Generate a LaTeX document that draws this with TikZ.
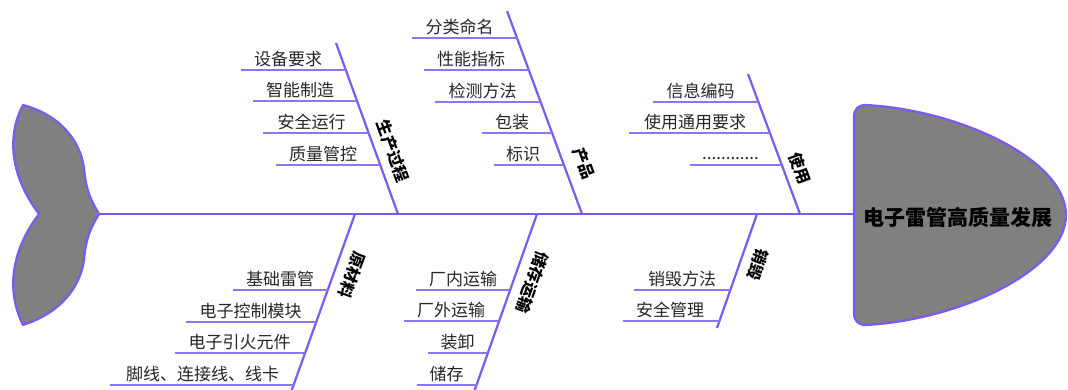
\documentclass[tikz,border=0pt]{standalone}
\usepackage{fontspec}
\setmainfont{Noto Sans CJK SC}
\usetikzlibrary{calc}
\definecolor{fbp}{HTML}{7A5AF0}
\definecolor{fbgray}{HTML}{808080}
\definecolor{fbtext}{HTML}{262626}
\tikzset{
  bone/.style={draw=fbp, line width=2.2pt},
  spine/.style={draw=fbp, line width=2.8pt},
  subline/.style={draw=fbp!85, line width=1.3pt},
  shapefill/.style={draw=fbp, fill=fbgray, line width=2.2pt, line join=round},
  itemtext/.style={inner sep=0pt, text=fbtext, font=\fontsize{17}{20}\selectfont},
  cattext/.style={inner sep=0pt, text=black, font=\fontsize{16}{19}\selectfont\bfseries},
  headtext/.style={inner sep=0pt, text=black, font=\fontsize{21}{24}\selectfont\bfseries}
}
\newcommand\fbitem[7]{%
  \node[itemtext] (#1) at (#2,#3) {#7};
  \coordinate (#1s) at (#4,#5);
  \coordinate (#1e) at (#6,#5);
  \draw[subline] (#1s) -- (#1e);
}
\begin{document}
\begin{tikzpicture}[x=1pt,y=-1pt]
\useasboundingbox (0,0) rectangle (1068,390);
% tail
\draw[shapefill] (23,105) .. controls (60,115) and (80,140) .. (84,168)
  .. controls (86,192) and (92,202) .. (99,214)
  .. controls (92,226) and (86,236) .. (84,260)
  .. controls (80,288) and (60,313) .. (23,325)
  .. controls (8,295) and (8,255) .. (39,214)
  .. controls (8,173) and (8,133) .. (23,105) -- cycle;
% head
\draw[shapefill] (854,117) .. controls (854,109) and (858,105) .. (866,105)
  .. controls (960,110) and (1066,160) .. (1066,215)
  .. controls (1066,270) and (960,320) .. (866,325)
  .. controls (858,325) and (854,321) .. (854,313) -- cycle;
\node[headtext] (head) at (958,217) {电子雷管高质量发展};
% spine
\coordinate (tailpt) at (99,214);
\coordinate (headpt) at (854,214);
\draw[spine] (tailpt) -- (headpt);
% bones
\coordinate (b1s) at (336,43);  \coordinate (b1e) at (398,214);
\coordinate (b2s) at (507,11);  \coordinate (b2e) at (582,214);
\coordinate (b3s) at (748,74);  \coordinate (b3e) at (800,214);
\coordinate (b4s) at (355,214); \coordinate (b4e) at (290,395);
\coordinate (b5s) at (537,214); \coordinate (b5e) at (473,395);
\coordinate (b6s) at (757,214); \coordinate (b6e) at (717,328);
\draw[bone] (b1s) -- (b1e);
\draw[bone] (b2s) -- (b2e);
\draw[bone] (b3s) -- (b3e);
\draw[bone] (b4s) -- (b4e);
\draw[bone] (b5s) -- (b5e);
\draw[bone] (b6s) -- (b6e);
% category labels
\node[cattext, rotate=-70] (c1) at (393,151) {生产过程};
\node[cattext, rotate=-70] (c2) at (584,163) {产品};
\node[cattext, rotate=-70] (c3) at (800,168) {使用};
\node[cattext, rotate=-110] (c4) at (352,275) {原材料};
\node[cattext, rotate=-110] (c5) at (532.5,282.5) {储存运输};
\node[cattext, rotate=-110] (c6) at (758,265) {销毁};
% items: production
\fbitem{i11}{288}{59}{241}{70}{345.8}{设备要求}
\fbitem{i12}{300}{90}{253}{101}{357.0}{智能制造}
\fbitem{i13}{311.5}{122}{263}{133}{368.6}{安全运行}
\fbitem{i14}{323}{154}{276}{165}{380.2}{质量管控}
% items: product
\fbitem{i21}{459.5}{27}{412}{38}{517.0}{分类命名}
\fbitem{i22}{471}{59}{424}{70}{528.8}{性能指标}
\fbitem{i23}{482.5}{91}{435}{102}{540.6}{检测方法}
\fbitem{i24}{512}{122}{482}{133}{552.1}{包装}
\fbitem{i25}{523}{154}{494}{165}{563.9}{标识}
% items: use
\fbitem{i31}{700.5}{91}{653}{102}{758.4}{信息编码}
\fbitem{i32}{695}{122}{629}{133}{769.9}{使用通用要求}
\node[itemtext, anchor=base] (i33) at (730.5,160) {............};
\coordinate (i33s) at (690,165); \coordinate (i33e) at (781.8,165);
\draw[subline] (i33s) -- (i33e);
% items: raw materials
\fbitem{i41}{280}{279}{233}{290}{327.7}{基础雷管}
\fbitem{i42}{250.5}{311}{186}{322}{316.2}{电子控制模块}
\fbitem{i43}{239.5}{342}{175}{353}{305.1}{电子引火元件}
\fbitem{i44}{202.5}{374}{110}{385}{293.6}{脚线、连接线、线卡}
% items: storage & transport
\fbitem{i51}{463}{279}{416}{290}{510.1}{厂内运输}
\fbitem{i52}{451}{310}{404}{321}{499.2}{厂外运输}
\fbitem{i53}{457.5}{342}{428}{353}{487.9}{装卸}
\fbitem{i54}{446.5}{374}{417}{385}{476.5}{储存}
% items: destruction
\fbitem{i61}{682}{279}{634}{290}{730.3}{销毁方法}
\fbitem{i62}{670}{310}{623}{321}{719.5}{安全管理}
\end{tikzpicture}
\end{document}
